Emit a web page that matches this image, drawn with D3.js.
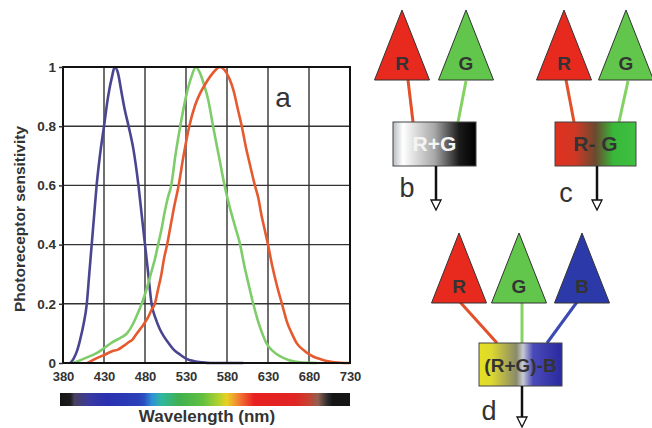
<!DOCTYPE html>
<html><head><meta charset="utf-8">
<script src="https://cdn.jsdelivr.net/npm/d3@7"></script>
<style>body{margin:0;background:#fff}svg{display:block}</style>
</head><body>
<script>
// ---- data ----
const xTicks = [380,430,480,530,580,630,680,730];
const yTicks = [0,0.2,0.4,0.6,0.8,1];
const yTickLabels = ["0","0.2","0.4","0.6","0.8","1"];
const blueWl  = [389,393,397,401,405,409,412,415,418,421,425,430,435,440,443,447,451,455,460,466,472,476,480,484,488,493,498,503,508,515,522,530,540,550,560,600];
const blueVal = [0,0.015,0.04,0.08,0.13,0.2,0.3,0.4,0.5,0.6,0.7,0.8,0.9,0.97,1.0,0.98,0.92,0.86,0.8,0.72,0.6,0.5,0.4,0.3,0.2,0.15,0.115,0.09,0.07,0.045,0.03,0.015,0.006,0.002,0,0];
const greenWl  = [392,400,410,421,430,440,450,458,465,470,476,482,488,492,496,500,504,508,512,517,523,530,537,542,547,552,557,563,570,577,583,590,596,601,606,612,618,623,628,636,645,655,669,690];
const greenVal = [0,0.008,0.02,0.033,0.05,0.07,0.085,0.1,0.13,0.16,0.2,0.25,0.31,0.35,0.4,0.45,0.51,0.56,0.6,0.7,0.8,0.9,0.97,1.0,0.98,0.94,0.89,0.8,0.7,0.6,0.53,0.46,0.4,0.33,0.27,0.2,0.14,0.1,0.067,0.04,0.022,0.01,0.002,0];
const redWl  = [410,420,431,440,447,453,460,465,470,477,484,488,492,496,500,503,507,511,515,521,527,534,541,547,553,560,566,571,577,583,588,593,598,603,608,614,618,622,626,630,635,641,647,653,659,665,675,685,695,705,718,730];
const redVal = [0,0.015,0.028,0.04,0.045,0.056,0.07,0.08,0.1,0.125,0.156,0.18,0.2,0.25,0.3,0.35,0.4,0.46,0.52,0.6,0.7,0.8,0.87,0.91,0.94,0.97,0.99,1.0,0.99,0.96,0.92,0.86,0.8,0.73,0.67,0.6,0.56,0.5,0.45,0.4,0.33,0.26,0.2,0.14,0.1,0.067,0.04,0.022,0.012,0.005,0.001,0];
const curveColors = ["#4a4590","#7fcc6a","#e65a30"];

// ---- layout ----
const W=652,H=428;
const svg=d3.select("body").append("svg").attr("width",W).attr("height",H);
const x=d3.scaleLinear().domain([380,730]).range([63,350]);
const y=d3.scaleLinear().domain([0,1]).range([363,67]);
const font="Arial, 'Liberation Sans', sans-serif";

// grid
const g=svg.append("g");
g.selectAll(".vg").data(xTicks.slice(1,-1)).join("line")
 .attr("x1",d=>x(d)).attr("x2",d=>x(d)).attr("y1",y(0)).attr("y2",y(1))
 .attr("stroke","#333").attr("stroke-width",1.4);
g.selectAll(".hg").data(yTicks.slice(1,-1)).join("line")
 .attr("x1",x(380)).attr("x2",x(730)).attr("y1",d=>y(d)).attr("y2",d=>y(d))
 .attr("stroke","#333").attr("stroke-width",1.4);

// curves
const line=d3.line().x(d=>x(d[0])).y(d=>y(d[1])).curve(d3.curveMonotoneX);
[[blueWl,blueVal],[greenWl,greenVal],[redWl,redVal]].forEach((s,i)=>{
  svg.append("path").datum(s[0].map((w,j)=>[w,s[1][j]]))
   .attr("d",line).attr("fill","none").attr("stroke",curveColors[i]).attr("stroke-width",2.6);
});

// frame
svg.append("rect").attr("x",x(380)).attr("y",y(1)).attr("width",x(730)-x(380)).attr("height",y(0)-y(1))
 .attr("fill","none").attr("stroke","#111").attr("stroke-width",2);

// axes
const xAxis=svg.append("g").attr("transform",`translate(0,${y(0)})`)
 .call(d3.axisBottom(x).tickValues(xTicks).tickSize(0).tickPadding(9));
xAxis.select(".domain").remove();
xAxis.selectAll("text").attr("font-family",font).attr("font-weight","bold").attr("font-size",13).attr("fill","#333");
const yAxis=svg.append("g").attr("transform",`translate(${x(380)},0)`)
 .call(d3.axisLeft(y).tickValues(yTicks).tickFormat((d,i)=>yTickLabels[i]).tickSize(4).tickPadding(3));
yAxis.select(".domain").remove();
yAxis.selectAll("line").attr("stroke","#333").attr("stroke-width",1.5);
yAxis.selectAll("text").attr("font-family",font).attr("font-weight","bold").attr("font-size",13.5).attr("fill","#333");

svg.append("text").attr("transform","translate(25,219) rotate(-90)").attr("text-anchor","middle")
 .attr("font-family",font).attr("font-weight","bold").attr("font-size",15.5).attr("fill","#333")
 .text("Photoreceptor sensitivity");
svg.append("text").attr("x",283).attr("y",107).attr("text-anchor","middle")
 .attr("font-family",font).attr("font-size",28).attr("fill","#333").text("a");

// spectrum bar
const defs=svg.append("defs");
const specStops=[[0,"#151515"],[0.035,"#1c1c1c"],[0.05,"#4a4060"],[0.1,"#3a3aa0"],[0.16,"#2a30b0"],[0.27,"#2a40b8"],[0.29,"#2a50c0"],[0.317,"#3090d8"],[0.35,"#30b8a0"],[0.41,"#40b050"],[0.49,"#60c040"],[0.545,"#b0d030"],[0.575,"#e8d020"],[0.6,"#f0a030"],[0.632,"#f06030"],[0.67,"#e82020"],[0.81,"#e02424"],[0.856,"#c84030"],[0.89,"#906050"],[0.92,"#303030"],[0.94,"#151515"],[1,"#151515"]];
const sg=defs.append("linearGradient").attr("id","spec");
sg.selectAll("stop").data(specStops).join("stop").attr("offset",d=>d[0]).attr("stop-color",d=>d[1]);
svg.append("rect").attr("x",60).attr("y",393).attr("width",290).attr("height",13).attr("fill","url(#spec)");
svg.append("text").attr("x",207).attr("y",422).attr("text-anchor","middle")
 .attr("font-family",font).attr("font-weight","bold").attr("font-size",17).attr("fill","#333").text("Wavelength (nm)");

// ---- diagrams ----
function grad(id,stops){
  const lg=defs.append("linearGradient").attr("id",id);
  lg.selectAll("stop").data(stops).join("stop").attr("offset",d=>d[0]).attr("stop-color",d=>d[1]);
  return `url(#${id})`;
}
const gB=grad("gb",[[0,"#b8bcc0"],[0.12,"#ffffff"],[0.5,"#a8a8a8"],[0.8,"#1a1a1a"],[1,"#000"]]);
const gC=grad("gc",[[0,"#e03020"],[0.25,"#d03824"],[0.5,"#6a4a30"],[0.72,"#38b838"],[1,"#40c040"]]);
const gD=grad("gd",[[0,"#e6e020"],[0.15,"#dcd830"],[0.45,"#8a8a6a"],[0.53,"#c8cad4"],[0.65,"#4a4ab8"],[1,"#2a2aa0"]]);

const triFill={R:"#e8291e",G:"#62c64c",B:"#2b3aa8"};
const wireCol={R:"#e2502a",G:"#84d264",B:"#3a4ab2"};
const panels=[
 {tris:[["R",402,10],["G",466,10]],box:[393,122,83,44],fill:gB,txt:"R+G",txtCol:"#f4f4f4",wires:[[408,80,413,122],[466,81,458,122]],arrowX:436,arrowY:[166,210],lab:"b",lx:407,ly:197},
 {tris:[["R",564,10],["G",626,10]],box:[555,122,81,44],fill:gC,txt:"R- G",txtCol:"#333",wires:[[566,80,574,122],[628,81,619,122]],arrowX:597,arrowY:[166,210],lab:"c",lx:566,ly:202},
 {tris:[["R",459,233],["G",519,233],["B",582,233]],box:[479,343,83,43],fill:gD,txt:"(R+G)-B",txtCol:"#333",wires:[[460,302,497,343],[522,302,522,343],[577,302,547,343]],arrowX:522,arrowY:[386,427],lab:"d",lx:489,ly:420}
];
panels.forEach(p=>{
  const keys=p.tris.map(t=>t[0]);
  p.wires.forEach((w,i)=>svg.append("line").attr("x1",w[0]).attr("y1",w[1]).attr("x2",w[2]).attr("y2",w[3])
     .attr("stroke",wireCol[keys[i]]).attr("stroke-width",3));
  p.tris.forEach(t=>{
    const [k,cx,ty]=t;
    svg.append("path").attr("d",`M${cx},${ty}L${cx+27.5},${ty+70}L${cx-27.5},${ty+70}Z`)
      .attr("fill",triFill[k]).attr("stroke","#333").attr("stroke-width",1);
    svg.append("text").attr("x",cx).attr("y",ty+60).attr("text-anchor","middle")
      .attr("font-family",font).attr("font-weight","bold").attr("font-size",19).attr("fill","#333").text(k);
  });
  const [bx,by,bw,bh]=p.box;
  svg.append("rect").attr("x",bx).attr("y",by).attr("width",bw).attr("height",bh)
    .attr("fill",p.fill).attr("stroke","#444").attr("stroke-width",1);
  svg.append("text").attr("x",bx+bw/2).attr("y",by+bh/2+7).attr("text-anchor","middle")
    .attr("font-family",font).attr("font-weight","bold").attr("font-size",p.txt.length>5?19:21).attr("fill",p.txtCol).text(p.txt);
  const [a0,a1]=p.arrowY;
  svg.append("line").attr("x1",p.arrowX).attr("x2",p.arrowX).attr("y1",a0).attr("y2",a1-9)
    .attr("stroke","#111").attr("stroke-width",2.5);
  svg.append("path").attr("d",`M${p.arrowX-5},${a1-10}L${p.arrowX+5},${a1-10}L${p.arrowX},${a1}Z`)
    .attr("fill","#fff").attr("stroke","#111").attr("stroke-width",1.3);
  svg.append("text").attr("x",p.lx).attr("y",p.ly).attr("text-anchor","middle")
    .attr("font-family",font).attr("font-size",27).attr("fill","#333").text(p.lab);
});
</script>
</body></html>
